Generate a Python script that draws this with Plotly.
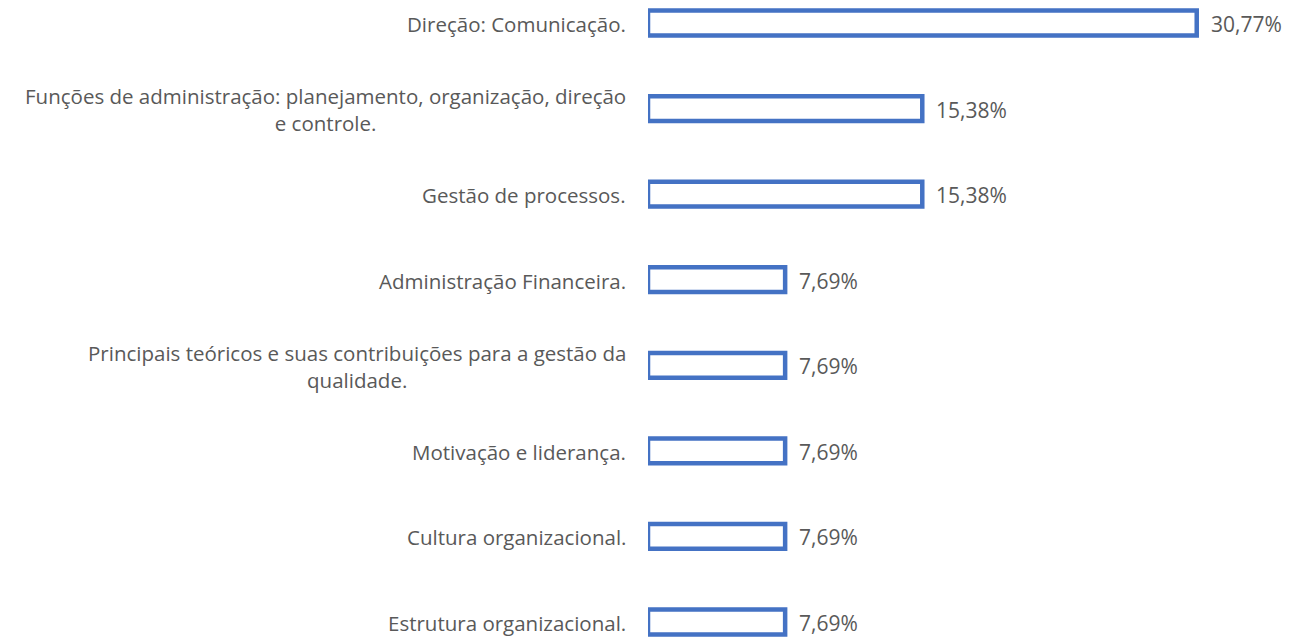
import plotly.graph_objects as go

categories = [
    "Direção: Comunicação.",
    "Funções de administração: planejamento, organização, direção<br>e controle.",
    "Gestão de processos.",
    "Administração Financeira.",
    "Principais teóricos e suas contribuições para a gestão da<br>qualidade.",
    "Motivação e liderança.",
    "Cultura organizacional.",
    "Estrutura organizacional.",
]
values = [30.77, 15.38, 15.38, 7.69, 7.69, 7.69, 7.69, 7.69]
value_labels = ["30,77%", "15,38%", "15,38%", "7,69%", "7,69%", "7,69%", "7,69%", "7,69%"]

positions = list(range(len(categories)))
FONT = "Open Sans, Lato, sans-serif"

fig = go.Figure()
fig.add_trace(go.Bar(
    x=values,
    y=positions,
    orientation="h",
    width=0.29,
    marker=dict(color="white", line=dict(color="#4472C4", width=4.5)),
    hoverinfo="skip",
))

for pos, cat in zip(positions, categories):
    fig.add_annotation(
        x=0, y=pos, xref="x", yref="y",
        text=cat, showarrow=False,
        xanchor="right", yanchor="middle", align="center",
        xshift=-20, yshift=-1,
        font=dict(family=FONT, size=20.5, color="#595959"),
    )

for pos, val, lab in zip(positions, values, value_labels):
    fig.add_annotation(
        x=val, y=pos, xref="x", yref="y",
        text=lab, showarrow=False,
        xanchor="left", yanchor="middle",
        xshift=12, yshift=-1,
        font=dict(family=FONT, size=21, color="#595959"),
    )

fig.update_layout(
    width=1282, height=629,
    margin=dict(l=640, r=0, t=0, b=0),
    paper_bgcolor="white", plot_bgcolor="white",
    showlegend=False,
    xaxis=dict(range=[0, 36], visible=False),
    yaxis=dict(range=[7.175, -0.175], visible=False),
)

fig.write_html("out.html")
